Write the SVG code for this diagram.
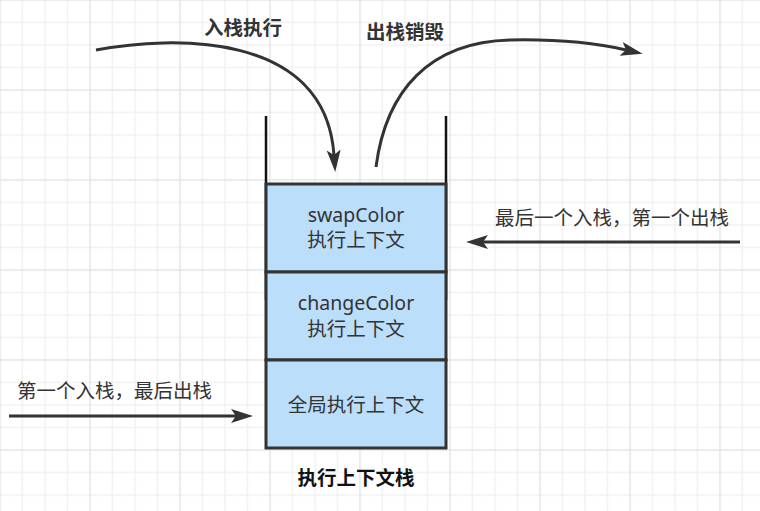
<svg xmlns="http://www.w3.org/2000/svg" width="760" height="511" viewBox="0 0 760 511">
  <style>
    .t { font-family: "Noto Sans", "Noto Sans CJK SC", sans-serif; font-size: 19.5px; fill: #333333; }
    .c { text-anchor: middle; }
    .b { font-weight: bold; }
    .box { fill: #BBDEFB; stroke: #333333; stroke-width: 3; }
    .wall { stroke: #111111; stroke-width: 2.5; fill: none; }
    .edge { fill: none; stroke: #333333; stroke-width: 3; }
  </style>
  <defs>
    <pattern id="grid" x="-0.75" y="-0.75" width="90" height="90" patternUnits="userSpaceOnUse">
      <rect width="90" height="90" fill="#ffffff"/>
      <path d="M23.25,0V90M45.75,0V90M68.25,0V90M0,23.25H90M0,45.75H90M0,68.25H90" stroke="#f1f1f1" stroke-width="1.5" fill="none"/>
      <path d="M0.75,0V90M0,0.75H90" stroke="#e4e4e4" stroke-width="1.5" fill="none"/>
    </pattern>
    <marker id="arr" markerUnits="userSpaceOnUse" markerWidth="24" markerHeight="16" viewBox="0 0 24 16" refX="5" refY="7" orient="auto">
      <path d="M0,0 L22,7 L0,14 L5,7 Z" fill="#333333"/>
    </marker>
  </defs>
  <rect width="760" height="511" fill="url(#grid)"/>

  <g id="stack-walls">
    <path class="wall" d="M266,116V300M446,116V300"/>
  </g>

  <g id="node-swapColor">
    <rect class="box" x="266" y="184" width="180" height="88"/>
    <text class="t c" x="356" y="222">swapColor</text>
    <text class="t c" x="356" y="247">执行上下文</text>
  </g>
  <g id="node-changeColor">
    <rect class="box" x="266" y="272" width="180" height="88"/>
    <text class="t c" x="356" y="310">changeColor</text>
    <text class="t c" x="356" y="335.5">执行上下文</text>
  </g>
  <g id="node-global">
    <rect class="box" x="266" y="360" width="180" height="88"/>
    <text class="t c" x="356" y="412">全局执行上下文</text>
  </g>

  <g id="label-stack">
    <text class="t c b" x="356" y="485" style="fill:#111111">执行上下文栈</text>
  </g>

  <g id="connectors">
    <path class="edge" d="M96,50 C170,36 325,30 334,155" marker-end="url(#arr)"/>
    <path class="edge" d="M376,167 C386,90 430,42 510,40 C560,39 600,44 626,50" marker-end="url(#arr)"/>
    <path class="edge" d="M740,242 H483" marker-end="url(#arr)"/>
    <path class="edge" d="M9,416 H236" marker-end="url(#arr)"/>
  </g>

  <g id="labels">
    <text class="t c b" x="243" y="35">入栈执行</text>
    <text class="t c b" x="405" y="39">出栈销毁</text>
    <text class="t c" x="612" y="225">最后一个入栈，第一个出栈</text>
    <text class="t c" x="114.5" y="398">第一个入栈，最后出栈</text>
  </g>
</svg>
